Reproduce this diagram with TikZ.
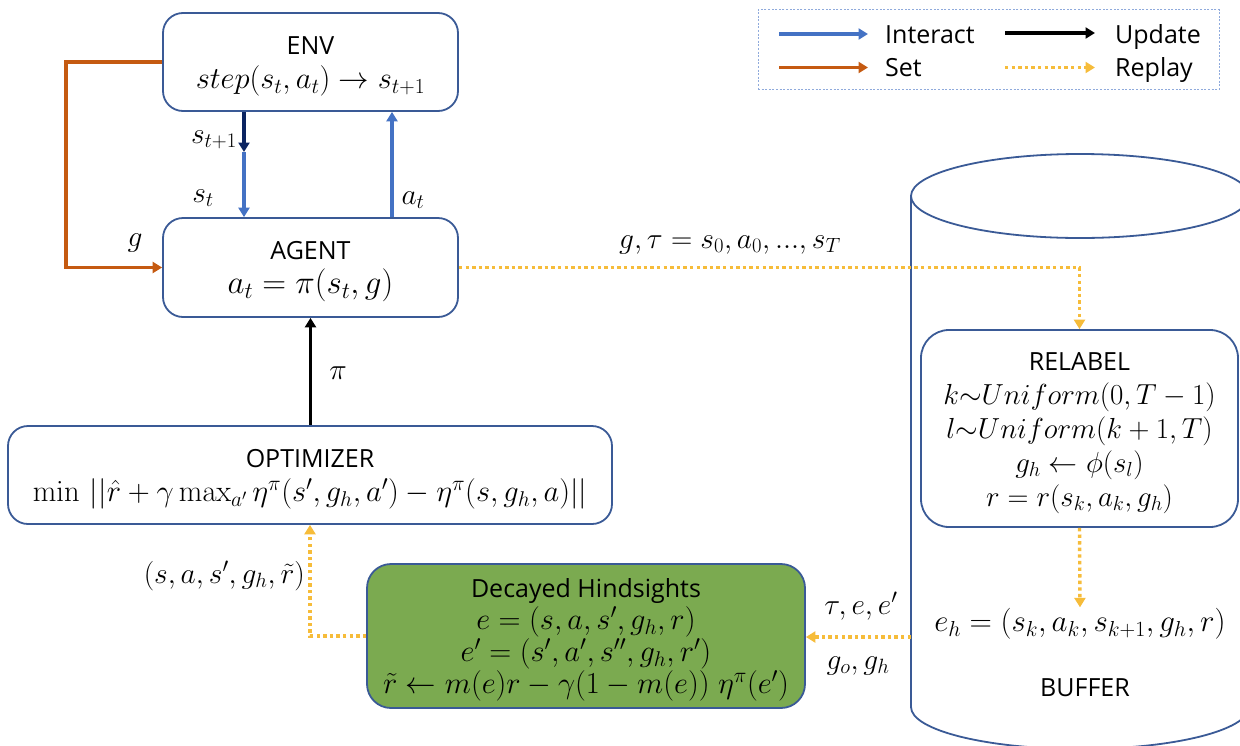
\RequirePackage{fix-cm}
\documentclass[tikz,border=0pt]{standalone}
\usepackage[no-math]{fontspec}
\setmainfont{Open Sans}
\usetikzlibrary{arrows.meta,calc}

\definecolor{boxblue}{HTML}{3A5A96}
\definecolor{interactblue}{HTML}{4472C4}
\definecolor{navy}{HTML}{0B2461}
\definecolor{setorange}{HTML}{C55A11}
\definecolor{replayyellow}{HTML}{F6BC3A}
\definecolor{hgreen}{HTML}{7BAA50}
\definecolor{legendblue}{HTML}{8FAADC}

% box titles: sans text with a strut that sets the first line height
\newcommand\boxtitle[1]{{\fontsize{25}{34}\selectfont\rule{0pt}{27pt}#1}}
\newcommand\mathsize[1]{\fontsize{#1}{34}\selectfont}

\begin{document}
\begin{tikzpicture}[x=1pt,y=-1pt,
  box/.style={draw=boxblue, line width=1.8pt, rounded corners=20pt, align=center,
    inner sep=0pt, font=\fontsize{30.5}{34}\selectfont},
  lbl/.style={inner sep=1pt, font=\fontsize{29.5}{34}\selectfont},
  txt/.style={inner sep=0pt, font=\fontsize{25}{30}\selectfont},
  tip/.style={-{Triangle[width=11pt,length=9.5pt]}},
  interact/.style={tip, draw=interactblue, line width=3.2pt},
  navyarrow/.style={tip, draw=navy, line width=3.2pt},
  setarrow/.style={tip, draw=setorange, line width=3.3pt},
  update/.style={tip, draw=black, line width=3.4pt},
  replay/.style={tip, draw=replayyellow, line width=3.4pt,
    dash pattern=on 3.4pt off 3.2pt},
  cyl/.style={draw=boxblue, line width=1.8pt}
]
\path[use as bounding box] (0,0) rectangle (1240,745);
\clip (0,0) rectangle (1240,745);

% buffer cylinder (extends past the right edge)
\draw[cyl] (1080,196) ellipse [x radius=169pt, y radius=42pt];
\draw[cyl] (1249,196) -- (1249,707);
\draw[cyl] (911,196) -- (911,707) arc[start angle=180, end angle=360, x radius=169pt, y radius=42pt];
\coordinate (bufwall) at (911,637);

% legend
\node[draw=legendblue, line width=1pt, dash pattern=on 2pt off 1.6pt,
      minimum width=461pt, minimum height=80pt, inner sep=0pt] (legend) at (988.5,49.5) {};
\node[txt, anchor=base west] (lgI) at (885,43) {Interact};
\node[txt, anchor=base west] (lgS) at (885,76.5) {Set};
\node[txt, anchor=base west] (lgU) at (1115,43) {Update};
\node[txt, anchor=base west] (lgR) at (1115,76.5) {Replay};
\draw[interact] ([xshift=-106pt,yshift=9pt]lgI.base west) -- ([xshift=-17pt,yshift=9pt]lgI.base west);
\draw[setarrow] ([xshift=-106pt,yshift=9pt]lgS.base west) -- ([xshift=-17pt,yshift=9pt]lgS.base west);
\draw[update] ([xshift=-110pt,yshift=10pt]lgU.base west) -- ([xshift=-20pt,yshift=10pt]lgU.base west);
\draw[replay] ([xshift=-110pt,yshift=9pt]lgR.base west) -- ([xshift=-20pt,yshift=9pt]lgR.base west);

% boxes
\node[box, minimum width=295pt, minimum height=98pt] (env) at (310.5,62)
  {\boxtitle{ENV}\\ $step(s_t,a_t)\rightarrow s_{t+1}$};
\node[box, minimum width=295pt, minimum height=99pt] (agent) at (310.5,267.5)
  {\boxtitle{AGENT}\\ \mathsize{33}$a_t=\pi(s_t,g)$};
\node[box, minimum width=604pt, minimum height=98pt] (optim) at (310,475)
  {\boxtitle{OPTIMIZER}\\ $\min\,||\hat{r}+\gamma\max_{a'}\eta^{\pi}(s',g_h,a')-\eta^{\pi}(s,g_h,a)||$};
\node[box, fill=hgreen, rounded corners=24pt, minimum width=438pt, minimum height=144pt,
      font=\fontsize{30.5}{32}\selectfont] (decay) at (586,636)
  {\boxtitle{Decayed Hindsights}\\ $e=(s,a,s',g_h,r)$\\ $e'=(s',a',s'',g_h,r')$\\
   $\tilde{r}\leftarrow m(e)r-\gamma(1-m(e))\;\eta^{\pi}(e')$};
\node[box, fill=white, rounded corners=28pt, minimum width=317pt, minimum height=197pt,
      font=\fontsize{29}{34}\selectfont] (relabel) at (1079.5,428.5)
  {\boxtitle{RELABEL}\\ $k{\sim}Uniform(0,T-1)$\\ $l{\sim}Uniform(k+1,T)$\\
   $g_h\leftarrow\phi(s_l)$\\ $r=r(s_k,a_k,g_h)$};

% texts inside the buffer
\node[lbl, font=\fontsize{31}{34}\selectfont] (eh) at (1080,624) {$e_h=(s_k,a_k,s_{k+1},g_h,r)$};
\node[txt] (buf) at (1085,688) {BUFFER};

% connector labels
\node[lbl, anchor=east] (lst1) at (238,140) {$s_{t+1}$};
\node[lbl] (lst) at (203,198) {$s_t$};
\node[lbl] (lat) at (413,200) {$a_t$};
\node[lbl] (lg) at (135,243) {$g$};
\node[lbl] (lpi) at (338,373) {$\pi$};
\node[lbl] (ltraj) at (730,245) {$g,\tau=s_0,a_0,{...},s_T$};
\node[lbl, anchor=east] (ltrans) at (306,576) {$(s,a,s',g_h,\tilde{r})$};
\node[lbl] (ltau) at (861,606) {$\tau,e,e'$};
\node[lbl] (lgo) at (858,666) {$g_o,g_h$};

% connectors
\coordinate (sx) at (244,152);
\coordinate (ax) at (392,160);
\draw[navyarrow] (env.south -| sx) -- (sx);
\draw[interact] (sx) -- (agent.north -| sx);
\draw[interact] (agent.north -| ax) -- (env.south -| ax);
\draw[setarrow] (env.west) -- ++(-96,0) |- (agent.west);
\draw[update] (optim.north -| agent.south) -- (agent.south);
\draw[replay] (agent.east) -| (relabel.north);
\draw[replay] (relabel.south) -- (eh.north);
\draw[replay] (bufwall) -- (bufwall -| decay.east);
\draw[replay] (decay.west) -| (optim.south);
\end{tikzpicture}
\end{document}
